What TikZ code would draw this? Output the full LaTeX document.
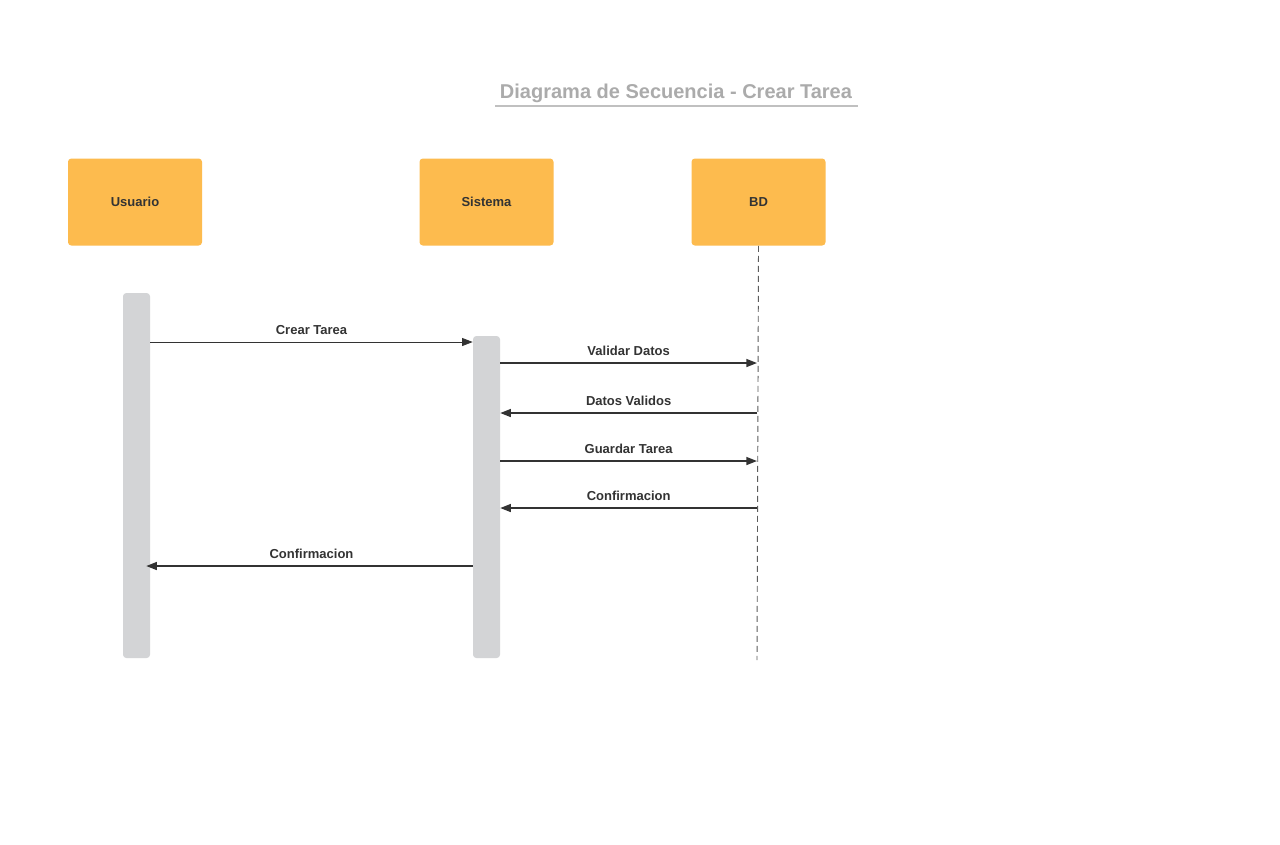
\documentclass[tikz,border=0pt]{standalone}
\usepackage{fontspec}
\setmainfont{Liberation Sans}
\usepackage{xcolor}
\usetikzlibrary{arrows.meta,calc}
\definecolor{actorfill}{HTML}{FDBB4E}
\definecolor{barfill}{HTML}{D3D4D6}
\definecolor{inkdark}{HTML}{333333}
\definecolor{titlegray}{HTML}{ABABAB}
\definecolor{rulegray}{HTML}{C0C0C0}
\tikzset{
    actor/.style={fill=actorfill,rounded corners=2.5pt,minimum width=100.5pt,minimum height=65.25pt,
        text=inkdark,font=\fontsize{9.75}{12}\selectfont\bfseries},
    activation/.style={fill=barfill,rounded corners=2.5pt,minimum width=20.25pt,inner sep=0pt},
    msg/.style={draw=inkdark,line width=1.1pt,-{Triangle[length=8pt,width=6pt]}},
    msglabel/.style={text=inkdark,font=\fontsize{9.75}{12}\selectfont\bfseries,inner sep=0pt}
}
\begin{document}
\begin{tikzpicture}[x=0.75pt,y=-0.75pt]
            \useasboundingbox[fill=white] (0,0) rectangle (1280,844);
            % title
            \node[text=titlegray,font=\fontsize{15}{18}\selectfont\bfseries,inner sep=0pt] (title) at (676,93.5) {Diagrama de Secuencia - Crear Tarea};
            \coordinate (TL) at (495,106);
            \coordinate (TR) at (858,106);
            \draw[rulegray,line width=1.5pt] (TL) -- (TR);
            % participants
            \node[actor] (usr) at (135,202) {Usuario};
            \node[actor] (sys) at (486.5,202) {Sistema};
            \node[actor] (bd) at (758.5,202) {BD};
            % activations
            \node[activation,minimum height=273.75pt] (ubar) at (136.5,475.5) {};
            \node[activation,minimum height=241.5pt] (sbar) at (486.5,497) {};
            % lifeline of BD
            \coordinate (bdend) at (757,660);
            \draw[inkdark!80,line width=0.7pt,dash pattern=on 4.5pt off 3pt] (bd.south) -- (bdend);
            % messages
            \coordinate (M1) at (0,342);
            \coordinate (M2) at (0,363);
            \coordinate (M3) at (0,413);
            \coordinate (M4) at (0,461);
            \coordinate (M5) at (0,508);
            \coordinate (M6) at (0,566);
            \begin{scope}
                \draw[msg,line width=0.6pt] (ubar.east |- M1) -- (sbar.west |- M1)
                    node[msglabel,midway,above=5pt] {Crear Tarea};
                \draw[msg] (sbar.east |- M2) -- (bdend |- M2)
                    node[msglabel,midway,above=5pt] {Validar Datos};
                \draw[msg] (bdend |- M3) -- (sbar.east |- M3)
                    node[msglabel,midway,above=5pt] {Datos Validos};
                \draw[msg] (sbar.east |- M4) -- (bdend |- M4)
                    node[msglabel,midway,above=5pt] {Guardar Tarea};
                \draw[msg] (bdend |- M5) -- (sbar.east |- M5)
                    node[msglabel,midway,above=5pt] {Confirmacion};
                \draw[msg,shorten >=-3pt] (sbar.west |- M6) -- (ubar.east |- M6)
                    node[msglabel,midway,above=5pt] {Confirmacion};
            \end{scope}
        \end{tikzpicture}
\end{document}
